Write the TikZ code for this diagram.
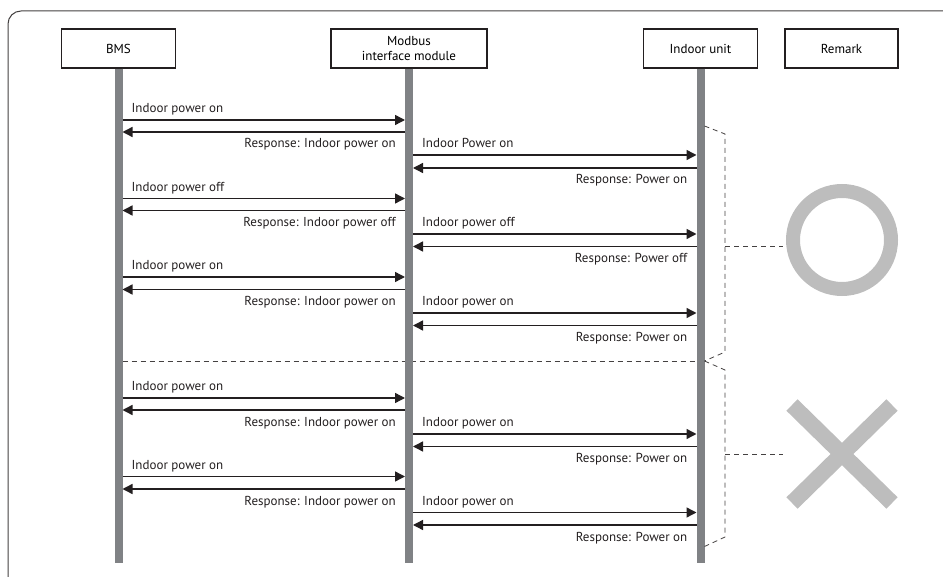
\documentclass[tikz,border=0pt]{standalone}
\usepackage{fontspec}
\setmainfont{PT Sans}
\usetikzlibrary{arrows.meta}
\definecolor{lifeg}{HTML}{808285}
\definecolor{ink}{HTML}{231F20}
\definecolor{markg}{HTML}{BDBDBD}
\tikzset{
  actor/.style={draw=ink, line width=1.2pt, fill=white, minimum height=39pt, inner sep=0pt, align=center, font=\fontsize{13}{15}\selectfont},
  life/.style={draw=lifeg, line width=8pt},
  msg/.style={draw=ink, line width=1.4pt, -{Triangle[length=10pt,width=10pt]}},
  reqlab/.style={anchor=base west, inner sep=0pt, font=\fontsize{13}{15}\selectfont, text=ink},
  reslab/.style={anchor=base east, inner sep=0pt, font=\fontsize{13}{15}\selectfont, text=ink},
  dsh/.style={draw=ink!85, line width=0.8pt, dash pattern=on 5pt off 4pt},
  remarkshape/.style={draw=markg, line width=14pt},
}
% request: y, from-coord, to-coord, label (label above-left)
\newcommand\reqmsg[4]{%
  \draw[msg] (#2 |- 0,#1) -- (#3 |- 0,#1);
  \node[reqlab] at ([xshift=9pt,yshift=7pt]#2 |- 0,#1) {#4};}
% response: y, from-coord (right), to-coord (left), label below-right
\newcommand\resmsg[4]{%
  \draw[msg] (#2 |- 0,#1) -- (#3 |- 0,#1);
  \node[reslab] at ([xshift=-9pt,yshift=-16pt]#2 |- 0,#1) {#4};}
\begin{document}
\begin{tikzpicture}[x=1pt,y=-1pt]
\useasboundingbox (0,0) rectangle (943,577);
\begin{scope}
\clip (0,0) rectangle (943,577);
\draw[draw=ink!85, line width=1pt, rounded corners=13pt] (8,11) rectangle (990,600);
\end{scope}
% actors
\node[actor, minimum width=114pt] (bms) at (118.5,48.5) {BMS};
\node[actor, minimum width=156pt] (mod) at (409,48.5) {Modbus\\interface module};
\node[actor, minimum width=114pt] (ind) at (700.5,48.5) {Indoor unit};
\node[actor, minimum width=113pt] (rem) at (841.5,48.5) {Remark};
% lifeline edge coordinates
\coordinate (bR) at (122.5,0);
\coordinate (mL) at (405,0);
\coordinate (mR) at (413,0);
\coordinate (iL) at (696.5,0);
\coordinate (iR) at (704.5,0);
% separator dashed line
\draw[dsh] (bR |- 0,361) -- (iL |- 0,361);
% lifelines
\draw[life] (bms.south) -- (bms.south |- 0,563);
\draw[life] (mod.south) -- (mod.south |- 0,563);
\draw[life] (ind.south) -- (ind.south |- 0,563);
% group 1
\reqmsg{120}{bR}{mL}{Indoor power on}
\resmsg{132}{mL}{bR}{Response: Indoor power on}
\reqmsg{155}{mR}{iL}{Indoor Power on}
\resmsg{168}{iL}{mR}{Response: Power on}
\reqmsg{198.5}{bR}{mL}{Indoor power off}
\resmsg{210.5}{mL}{bR}{Response: Indoor power off}
\reqmsg{234}{mR}{iL}{Indoor power off}
\resmsg{246.5}{iL}{mR}{Response: Power off}
\reqmsg{277}{bR}{mL}{Indoor power on}
\resmsg{289.5}{mL}{bR}{Response: Indoor power on}
\reqmsg{313}{mR}{iL}{Indoor power on}
\resmsg{325.5}{iL}{mR}{Response: Power on}
% group 2
\reqmsg{398}{bR}{mL}{Indoor power on}
\resmsg{410}{mL}{bR}{Response: Indoor power on}
\reqmsg{434}{mR}{iL}{Indoor power on}
\resmsg{446.5}{iL}{mR}{Response: Power on}
\reqmsg{476.5}{bR}{mL}{Indoor power on}
\resmsg{489}{mL}{bR}{Response: Indoor power on}
\reqmsg{512.5}{mR}{iL}{Indoor power on}
\resmsg{525}{iL}{mR}{Response: Power on}
% brackets
\draw[dsh] (iR |- 0,126) -- (725,134) -- (725,352) -- (iR |- 0,361);
\draw[dsh] (725,246.5) -- (783,246.5);
\draw[dsh] (iR |- 0,361) -- (725,370) -- (725,537) -- (iR |- 0,546.5);
\draw[dsh] (725,454) -- (783,454);
% remark symbols
\draw[remarkshape] (842,240) circle[radius=49pt];
\draw[remarkshape, line width=16pt] (792,405) -- (892,503);
\draw[remarkshape, line width=16pt] (792,503) -- (892,405);
\end{tikzpicture}
\end{document}
